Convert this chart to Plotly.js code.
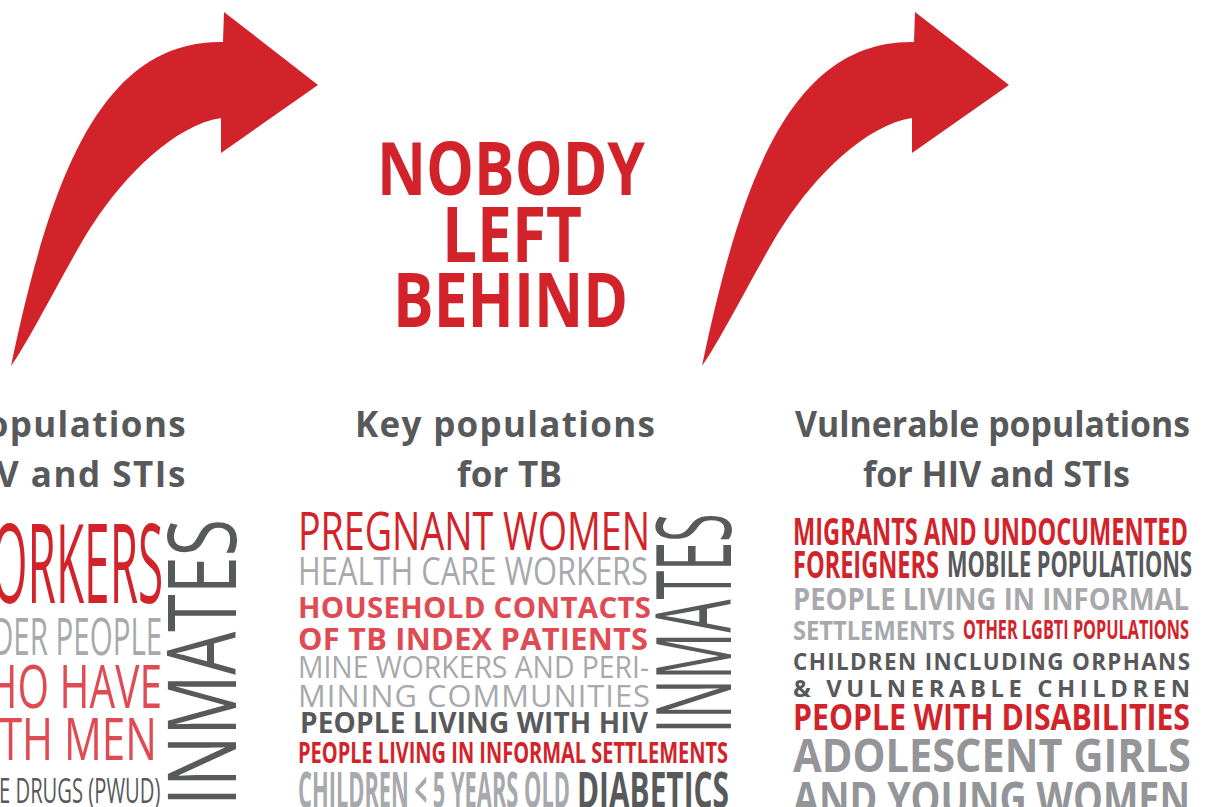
<!DOCTYPE html>
<html>
<head>
<meta charset="utf-8">
<script src="https://cdn.plot.ly/plotly-3.0.1.min.js"></script>
<style>
html,body{margin:0;padding:0;background:#ffffff;overflow:hidden}
#chart{width:1208px;height:807px}
</style>
</head>
<body>
<div id="chart"></div>
<script>
// ---------------- content ----------------
const TITLE_LINES = ["NOBODY", "LEFT", "BEHIND"];
const HEADING_LEFT = ["Key populations", "for HIV and STIs"];
const HEADING_CENTER = ["Key populations", "for TB"];
const HEADING_RIGHT = ["Vulnerable populations", "for HIV and STIs"];
const KEY_POPULATIONS_HIV_STI = ["SEX WORKERS", "TRANSGENDER PEOPLE", "MEN WHO HAVE", "SEX WITH MEN",
  "PEOPLE WHO USE DRUGS (PWUD)", "INMATES"];
const KEY_POPULATIONS_TB = ["PREGNANT WOMEN", "HEALTH CARE WORKERS", "HOUSEHOLD CONTACTS",
  "OF TB INDEX PATIENTS", "MINE WORKERS AND PERI-", "MINING COMMUNITIES", "PEOPLE LIVING WITH HIV",
  "PEOPLE LIVING IN INFORMAL SETTLEMENTS", "CHILDREN &lt; 5 YEARS OLD", "DIABETICS", "INMATES"];
const VULNERABLE_POPULATIONS = ["MIGRANTS AND UNDOCUMENTED", "FOREIGNERS", "MOBILE POPULATIONS",
  "PEOPLE LIVING IN INFORMAL", "SETTLEMENTS", "OTHER LGBTI POPULATIONS", "CHILDREN INCLUDING ORPHANS",
  "&amp; VULNERABLE CHILDREN", "PEOPLE WITH DISABILITIES", "ADOLESCENT GIRLS", "AND YOUNG WOMEN"];

// ---------------- placement & style ----------------
// [left, right, capTop, baseline, colour, weight, mode]  mode: l = left aligned, r = right aligned, v = vertical
const COLORS = {red: '#d2232a', pink: '#e04a52', dark: '#58595b', light: '#a7a9ac', mid: '#939598'};
const POS_TITLE = [
  [377, 645, 142, 195, 'red', 700, 'l'],
  [442, 582, 207, 262, 'red', 700, 'l'],
  [393, 628, 273, 327, 'red', 700, 'l']];
const POS_HEAD_LEFT = [
  [-115, 186, 412, 437, 'dark', 700, 'r'],
  [-112, 185, 462, 487, 'dark', 700, 'r']];
const POS_HEAD_CENTER = [
  [355, 655, 412, 437, 'dark', 700, 'l'],
  [457, 562, 462, 487, 'dark', 700, 'l']];
const POS_HEAD_RIGHT = [
  [795, 1190, 412, 437, 'dark', 700, 'l'],
  [863, 1130, 462, 487, 'dark', 700, 'l']];
const POS_HIV_STI = [
  [-140, 163, 525, 603, 'red', 400, 'r'],
  [-160, 162, 618, 655, 'light', 400, 'r'],
  [-150, 162, 665, 708, 'pink', 400, 'r'],
  [-133, 157, 718, 760, 'pink', 400, 'r'],
  [-160, 160, 778, 803, 'dark', 400, 'r'],
  [168, 236, 520, 807, 'dark', 400, 'v']];
const POS_TB = [
  [298, 650, 512, 550, 'red', 400, 'l'],
  [298, 648, 557, 585, 'light', 400, 'l'],
  [298, 651, 597, 618, 'pink', 700, 'l'],
  [298, 648, 628, 650, 'pink', 700, 'l'],
  [298, 649, 656, 678, 'light', 400, 'l'],
  [298, 650, 685, 707, 'light', 400, 'l'],
  [300, 648, 713, 733, 'dark', 700, 'l'],
  [298, 728, 743, 763, 'red', 700, 'l'],
  [298, 570, 772, 808, 'light', 700, 'l'],
  [577, 729, 772, 808, 'dark', 700, 'l'],
  [657, 731, 513, 733, 'dark', 400, 'v']];
const POS_VULNERABLE = [
  [793, 1188, 518, 545, 'red', 700, 'l'],
  [793, 939, 551, 578, 'red', 700, 'l'],
  [947, 1192, 552, 577, 'dark', 700, 'l'],
  [793, 1189, 588, 610, 'light', 700, 'l'],
  [793, 955, 621, 640, 'light', 700, 'l'],
  [963, 1189, 620, 639, 'red', 700, 'l'],
  [793, 1190, 654, 670, 'dark', 700, 'l'],
  [793, 1190, 680, 697, 'dark', 700, 'l'],
  [793, 1190, 704, 730, 'red', 700, 'l'],
  [793, 1191, 739, 772, 'mid', 700, 'l'],
  [793, 1190, 782, 815, 'mid', 700, 'l']];

const FONT = '"Open Sans", "Liberation Sans", sans-serif';
const CAP = 0.714;      // cap height / em
const SHIFT = 0.031;    // cap centre below box centre / em

const items = [];
function addGroup(texts, pos) {
  texts.forEach(function (t, i) { items.push({text: t, p: pos[i]}); });
}
addGroup(TITLE_LINES, POS_TITLE);
addGroup(HEADING_LEFT, POS_HEAD_LEFT);
addGroup(HEADING_CENTER, POS_HEAD_CENTER);
addGroup(HEADING_RIGHT, POS_HEAD_RIGHT);
addGroup(KEY_POPULATIONS_HIV_STI, POS_HIV_STI);
addGroup(KEY_POPULATIONS_TB, POS_TB);
addGroup(VULNERABLE_POPULATIONS, POS_VULNERABLE);

const annotations = items.map(function (it) {
  const p = it.p, mode = p[6];
  const base = {
    text: it.text, xref: 'x', yref: 'y', showarrow: false,
    borderpad: 0, borderwidth: 0,
    font: {family: FONT, color: COLORS[p[4]], weight: p[5]}
  };
  if (mode === 'v') {
    const size = (p[1] - p[0]) / CAP;
    base.font.size = size;
    base.textangle = -90;
    base.x = (p[0] + p[1]) / 2 - SHIFT * size;
    base.y = Math.min(p[3], 806);
    base.xanchor = 'center'; base.yanchor = 'bottom'; base.align = 'left';
    it.len = p[3] - p[2];
  } else {
    const size = (p[3] - p[2]) / CAP;
    base.font.size = size;
    base.y = (p[2] + p[3]) / 2 - SHIFT * size;
    base.yanchor = 'middle';
    if (mode === 'r') { base.x = p[1]; base.xanchor = 'right'; base.align = 'right'; }
    else { base.x = p[0]; base.xanchor = 'left'; base.align = 'left'; }
    it.len = p[1] - p[0];
  }
  return base;
});

// arrow outline (template, drawn twice)
function arrowPath(dx) {
  const pts = [
    ['M', 11, 366],
    ['C', 50, 180, 100, 40, 223, 42],
    ['L', 224, 12], ['L', 318, 85], ['L', 221, 153], ['L', 221, 118],
    ['C', 175, 125, 125, 175, 93, 224],
    ['C', 75, 250, 30, 340, 11, 366]];
  return pts.map(function (s) {
    let out = s[0];
    for (let k = 1; k < s.length; k += 2) out += ' ' + (s[k] + dx) + ',' + s[k + 1];
    return out;
  }).join(' ') + ' Z';
}
const ARROW_OFFSETS = [0, 691];
const shapes = ARROW_OFFSETS.map(function (dx) {
  return {type: 'path', xref: 'x', yref: 'y', path: arrowPath(dx),
    fillcolor: COLORS.red, line: {width: 0}, layer: 'above'};
});

const layout = {
  width: 1208, height: 807,
  margin: {l: 0, r: 0, t: 0, b: 0, pad: 0},
  paper_bgcolor: '#ffffff', plot_bgcolor: '#ffffff',
  showlegend: false,
  xaxis: {range: [0, 1208], visible: false, fixedrange: true},
  yaxis: {range: [807, 0], visible: false, fixedrange: true},
  annotations: annotations,
  shapes: shapes
};

const gd = document.getElementById('chart');
function fitTexts() {
  gd.querySelectorAll('g.annotation').forEach(function (g) {
    const i = +g.getAttribute('data-index');
    const it = items[i];
    const t = g.querySelector('text.annotation-text');
    if (!t || !it) return;
    t.removeAttribute('textLength');
    t.removeAttribute('lengthAdjust');
    const nat = t.getComputedTextLength();
    t.setAttribute('lengthAdjust', nat > it.len ? 'spacingAndGlyphs' : 'spacing');
    t.setAttribute('textLength', it.len);
  });
}
Plotly.newPlot(gd, [], layout, {staticPlot: true, displayModeBar: false}).then(fitTexts);
</script>
</body>
</html>
